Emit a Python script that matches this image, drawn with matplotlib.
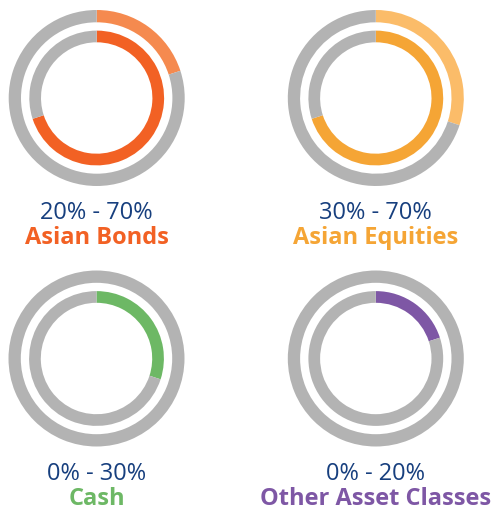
import matplotlib
matplotlib.use("Agg")
import matplotlib.pyplot as plt

# allocation ranges (%) per asset class
labels = ["Asian Bonds", "Asian Equities", "Cash", "Other Asset Classes"]
range_min = [20, 30, 0, 0]
range_max = [70, 70, 30, 20]
light_colors = ["#F58A4F", "#FBBC69", "#6DB865", "#7E57A5"]
dark_colors = ["#F26124", "#F5A535", "#6DB865", "#7E57A5"]
GRAY = "#B3B3B3"
NAVY = "#173F7E"

W, H = 493, 510
fig = plt.figure(figsize=(W / 100, H / 100), dpi=100)
plt.rcParams['font.family'] = ['Open Sans', 'DejaVu Sans']

# centres of each double ring, in pixels
centres = [(96.7, 99), (375.8, 99), (96.5, 359.5), (375.8, 359.5)]
R = 88
text_y = [(213, 238), (213, 238), (474, 499), (474, 499)]

for i in range(4):
    cx, cy = centres[i]
    ax = fig.add_axes([(cx - R) / W, (H - cy - R) / H, 2 * R / W, 2 * R / H])
    # outer ring: minimum allocation
    ax.pie([range_min[i], 100 - range_min[i]], colors=[light_colors[i], GRAY],
           radius=1.0, startangle=90, counterclock=False,
           wedgeprops=dict(width=12.3 / R, linewidth=0))
    # inner ring: maximum allocation
    ax.pie([range_max[i], 100 - range_max[i]], colors=[dark_colors[i], GRAY],
           radius=67.4 / R, startangle=90, counterclock=False,
           wedgeprops=dict(width=11.7 / R, linewidth=0))
    ax.set_xlim(-1, 1)
    ax.set_ylim(-1, 1)
    ax.set_axis_off()

    ty1, ty2 = text_y[i]
    fig.text(cx / W, 1 - ty1 / H, f"{range_min[i]}% - {range_max[i]}%",
             ha="center", va="center", fontsize=17, color=NAVY)
    fig.text(cx / W, 1 - ty2 / H, labels[i], ha="center", va="center",
             fontsize=17, fontweight="bold", color=dark_colors[i])

fig.savefig("out.png", dpi=100)
